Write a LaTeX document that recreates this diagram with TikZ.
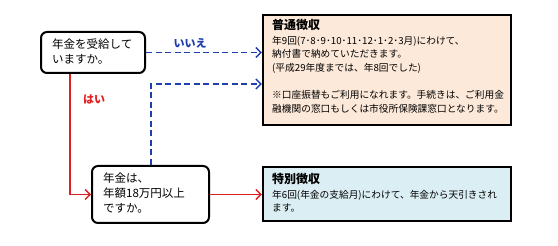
\documentclass[tikz,border=0pt]{standalone}
\usepackage{fontspec}
\setmainfont{Noto Sans CJK JP}
\usetikzlibrary{arrows.meta,calc}
\definecolor{nblue}{HTML}{1F3FAF}
\definecolor{nred}{HTML}{E02020}
\definecolor{peach}{HTML}{FDE9D9}
\definecolor{lblue}{HTML}{DAEEF3}
\begin{document}
\begin{tikzpicture}[x=1pt,y=-1pt,
  qbox/.style={draw=black,line width=2pt,rounded corners=6pt,fill=white,inner sep=0pt},
  abox/.style={draw=black,line width=2.4pt,inner sep=0pt},
  txt/.style={anchor=north west,align=left,inner sep=0pt,font=\fontsize{9.7pt}{13.6pt}\selectfont},
  qtxt/.style={anchor=north west,align=left,inner sep=0pt,font=\fontsize{11.5pt}{15pt}\selectfont},
  noarr/.style={nblue,line width=1.8pt,dash pattern=on 6pt off 3.5pt,-{Straight Barb[length=5pt,width=10pt,line width=1.4pt]}},
  yesarr/.style={nred,line width=1.6pt,-{Straight Barb[length=5pt,width=10pt,line width=1.4pt]}},
  lab/.style={font=\fontsize{11pt}{13pt}\selectfont\bfseries}]
\useasboundingbox (0,0) rectangle (558,246);
\node[qbox,minimum width=104pt,minimum height=41pt] (qA) at (93,52.5) {};
\node[qbox,minimum width=117pt,minimum height=57pt] (qB) at (150.5,194.5) {};
\node[abox,fill=peach,minimum width=248pt,minimum height=110pt] (futsu) at (387,70) {};
\node[abox,fill=lblue,minimum width=248pt,minimum height=54pt] (toku) at (387,194) {};
\node[qtxt] (tA) at (52,39) {年金を受給して\\いますか。};
\node[qtxt] (tB) at (103,173) {年金は、\\年額18万円以上\\ですか。};
\node[txt] (tF) at (272,19) {{\fontsize{12pt}{14pt}\selectfont\bfseries 普通徴収}\\[1pt]%
年9回(7･8･9･10･11･12･1･2･3月)にわけて、\\%
納付書で納めていただきます。\\%
(平成29年度までは、年8回でした)\\[13.6pt]%
※口座振替もご利用になれます。手続きは、ご利用金\\%
融機関の窓口もしくは市役所保険課窓口となります。};
\node[txt] (tT) at (272,173) {{\fontsize{12pt}{14pt}\selectfont\bfseries 特別徴収}\\[1pt]%
年6回(年金の支給月)にわけて、年金から天引きされ\\%
ます。};
\coordinate (rs) at ($(qA.south west)+(30,0)$);
\coordinate (bn) at ($(qB.north)+(0.5,0)$);
\coordinate (bk) at (151,84);
\draw[noarr] (qA.east) -- (qA.east -| futsu.west);
\draw[noarr] (bn) -- (bk) -- (bk -| futsu.west);
\draw[yesarr] (rs) |- (qB.west);
\draw[yesarr] (qB.east) -- (qB.east -| toku.west);
\node[lab,text=nblue] (lno) at (190,43) {いいえ};
\node[lab,text=nred] (lyes) at (94,99) {はい};
\end{tikzpicture}
\end{document}
